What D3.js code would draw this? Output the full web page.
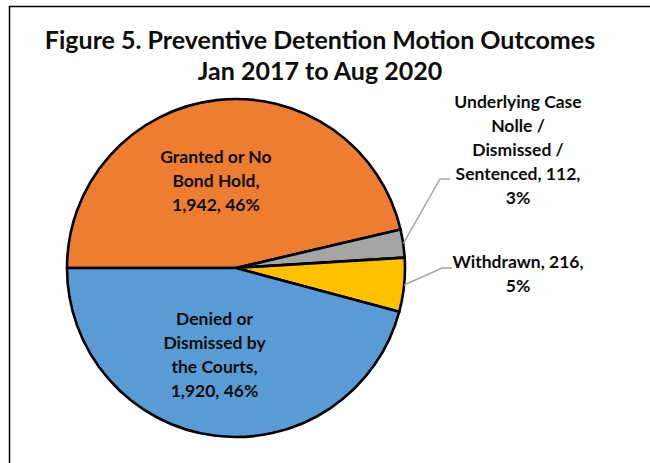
<!DOCTYPE html>
<html>
<head>
<meta charset="utf-8">
<script src="https://cdn.jsdelivr.net/npm/d3@7"></script>
<style>
  html, body { margin: 0; padding: 0; background: #fff; }
  svg { display: block; }
  text { font-family: Lato, "Open Sans", sans-serif; font-weight: 700; fill: #0d0d0d; }
</style>
</head>
<body>
<svg id="chart" width="650" height="463"></svg>
<script>
// Outcome categories, counts and slice colours
const categories = [
  "Granted or No Bond Hold",
  "Underlying Case Nolle / Dismissed / Sentenced",
  "Withdrawn",
  "Denied or Dismissed by the Courts"
];
const counts = [1942, 112, 216, 1920];
const colors = ["#ED7D31", "#A5A5A5", "#FFC000", "#5B9BD5"];

// How each category name wraps inside its data label
const nameLines = [
  ["Granted or No", "Bond Hold,"],
  ["Underlying Case", "Nolle /", "Dismissed /", "Sentenced,"],
  ["Withdrawn,"],
  ["Denied or", "Dismissed by", "the Courts,"]
];

const titleLines = [
  "Figure 5. Preventive Detention Motion Outcomes",
  "Jan 2017 to Aug 2020"
];

const W = 650, H = 463;
const svg = d3.select("#chart");

// chart area frame (top and left edges visible)
svg.append("path")
  .attr("d", `M9.5,${H} V6.5 H${W}`)
  .attr("fill", "none")
  .attr("stroke", "#000")
  .attr("stroke-width", 1.5);

// title
svg.append("g").selectAll("text")
  .data(titleLines)
  .join("text")
  .attr("x", 320)
  .attr("y", (d, i) => 49 + i * 31)
  .attr("text-anchor", "middle")
  .attr("font-size", 25)
  .text(d => d);

const cx = 236, cy = 268, R = 169;
const total = d3.sum(counts);
const fmt = d3.format(",");
const pct = v => Math.round(v / total * 100) + "%";

const data = categories.map((c, i) => ({
  name: c, value: counts[i], color: colors[i], lines: nameLines[i]
}));

const pie = d3.pie()
  .value(d => d.value)
  .sort(null)
  .startAngle(-Math.PI / 2)
  .endAngle(1.5 * Math.PI);

const arcs = pie(data);
const arc = d3.arc().innerRadius(0).outerRadius(R);
const edgeArc = d3.arc().innerRadius(R).outerRadius(R);
const innerArc = d3.arc().innerRadius(R * 0.52).outerRadius(R * 0.52);

const g = svg.append("g").attr("transform", `translate(${cx},${cy})`);

g.selectAll("path.slice")
  .data(arcs)
  .join("path")
  .attr("class", "slice")
  .attr("d", arc)
  .attr("fill", d => d.data.color)
  .attr("stroke", "#000")
  .attr("stroke-width", 2.6)
  .attr("stroke-linejoin", "round");

// label text lines: the category name, then count and share
function labelLines(d, outside) {
  const v = fmt(d.data.value), p = pct(d.data.value);
  const L = d.data.lines.slice();
  if (outside) {
    L[L.length - 1] = L[L.length - 1] + " " + v + ",";
    L.push(p);
  } else {
    L.push(v + ", " + p);
  }
  return L;
}

const lineH = 24;
const labelSize = 17.5;

// inside labels for the two large slices
const insideIdx = [0, 3];
insideIdx.forEach(i => {
  const a = arcs[i];
  const [x, y] = innerArc.centroid(a);
  const L = labelLines(a, false);
  const t = g.append("text")
    .attr("text-anchor", "middle")
    .attr("font-size", labelSize);
  const y0 = y - (L.length - 1) * lineH / 2;
  L.forEach((s, k) => {
    t.append("tspan")
      .attr("x", x - 10)
      .attr("y", y0 + k * lineH + 6)
      .text(s);
  });
});

// outside labels with leader lines for the two small slices
const outside = [
  { i: 1, elbow: [440 - cx, 179 - cy], textX: 518 - cx, firstY: 102 - cy },
  { i: 2, elbow: [442 - cx, 268 - cy], textX: 518 - cx, firstY: 262 - cy }
];
outside.forEach(o => {
  const a = arcs[o.i];
  const p0 = edgeArc.centroid(a);
  const p1 = o.elbow;
  const p2 = [p1[0] + 10, p1[1]];
  g.append("polyline")
    .attr("points", [p0, p1, p2].map(p => p.join(",")).join(" "))
    .attr("fill", "none")
    .attr("stroke", "#A6A6A6")
    .attr("stroke-width", 1.5);
  const L = labelLines(a, true);
  const t = g.append("text")
    .attr("text-anchor", "middle")
    .attr("font-size", labelSize);
  L.forEach((s, k) => {
    t.append("tspan")
      .attr("x", o.textX)
      .attr("y", o.firstY + k * lineH + 6)
      .text(s);
  });
});
</script>
</body>
</html>
